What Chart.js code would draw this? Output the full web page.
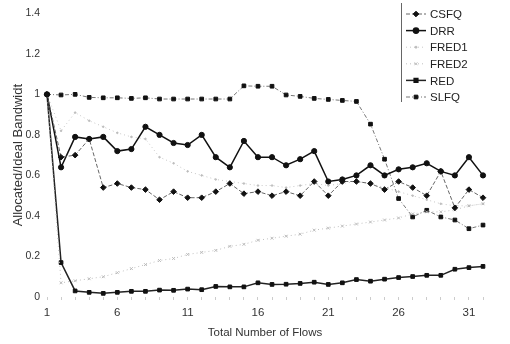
<!DOCTYPE html>
<html>
<head>
<meta charset="utf-8">
<script src="https://cdn.jsdelivr.net/npm/chart.js@4/dist/chart.umd.min.js"></script>
<style>
  html, body { margin: 0; padding: 0; background: #fff; }
  #wrap { width: 510px; height: 344px; }
</style>
</head>
<body>
<div id="wrap"><canvas id="bwChart" width="510" height="344"></canvas></div>
<script>
// flows on the x axis
const flows = [1, 2, 3, 4, 5, 6, 7, 8, 9, 10, 11, 12, 13, 14, 15, 16,
  17, 18, 19, 20, 21, 22, 23, 24, 25, 26, 27, 28, 29, 30, 31, 32]
const xTickLabels = [1, 6, 11, 16, 21, 26, 31]

const csfq = [1.0, 0.69, 0.70, 0.78, 0.54, 0.56, 0.54, 0.53, 0.48, 0.52, 0.49, 0.49,
  0.52, 0.56, 0.51, 0.52, 0.50, 0.52, 0.50, 0.57, 0.50, 0.57, 0.57, 0.56, 0.53, 0.57,
  0.54, 0.50, 0.62, 0.44, 0.53, 0.49]
const drr = [1.0, 0.64, 0.79, 0.78, 0.79, 0.72, 0.73, 0.84, 0.80, 0.76, 0.75, 0.80,
  0.69, 0.64, 0.77, 0.69, 0.69, 0.65, 0.68, 0.72, 0.57, 0.58, 0.60, 0.65, 0.60, 0.63,
  0.64, 0.66, 0.62, 0.60, 0.69, 0.60]
const fred1 = [1.0, 0.82, 0.91, 0.87, 0.84, 0.81, 0.79, 0.78, 0.69, 0.66, 0.62, 0.60,
  0.58, 0.57, 0.56, 0.55, 0.55, 0.54, 0.55, 0.56, 0.55, 0.56, 0.57, 0.56, 0.54, 0.52,
  0.50, 0.48, 0.46, 0.45, 0.45, 0.46]
const fred2 = [1.0, 0.07, 0.08, 0.09, 0.10, 0.12, 0.14, 0.16, 0.18, 0.19, 0.21, 0.22,
  0.23, 0.25, 0.26, 0.28, 0.29, 0.30, 0.31, 0.33, 0.34, 0.35, 0.36, 0.37, 0.38, 0.39,
  0.41, 0.42, 0.42, 0.43, 0.45, 0.46]
const red = [1.0, 0.17, 0.03, 0.023, 0.018, 0.023, 0.028, 0.028, 0.034, 0.033, 0.039, 0.036,
  0.052, 0.05, 0.05, 0.07, 0.062, 0.063, 0.067, 0.073, 0.062, 0.07, 0.086, 0.078, 0.088, 0.096,
  0.101, 0.107, 0.107, 0.137, 0.145, 0.151]
const slfq = [1.0, 0.997, 1.0, 0.985, 0.983, 0.983, 0.98, 0.983, 0.977, 0.977, 0.977, 0.977,
  0.977, 0.977, 1.042, 1.04, 1.04, 0.997, 0.99, 0.98, 0.975, 0.97, 0.965, 0.853, 0.68, 0.486,
  0.395, 0.428, 0.395, 0.38, 0.337, 0.355]

const seriesNames = ['CSFQ', 'DRR', 'FRED1', 'FRED2', 'RED', 'SLFQ']

const makeSet = (label, data, color, width, dash, point, radius, mark) => ({
  label: label,
  data: data,
  borderColor: color,
  backgroundColor: mark,
  borderWidth: width,
  borderDash: dash,
  pointStyle: point,
  pointRadius: radius,
  pointBorderColor: mark,
  pointBackgroundColor: mark,
  pointBorderWidth: 1,
  tension: 0
})

const datasets = [
  makeSet(seriesNames[0], csfq, '#666', 1, [4, 2], 'rectRot', 2.8, '#111'),
  makeSet(seriesNames[1], drr, '#111', 1.5, [], 'circle', 2.6, '#111'),
  makeSet(seriesNames[2], fred1, '#c8c8c8', 1, [1, 3], 'circle', 0.8, '#bbb'),
  makeSet(seriesNames[3], fred2, '#c0c0c0', 1, [1, 3], 'crossRot', 2, '#bbb'),
  makeSet(seriesNames[4], red, '#222', 1.5, [], 'rect', 2.6, '#111'),
  makeSet(seriesNames[5], slfq, '#777', 1, [4, 2, 1, 2], 'rect', 2.6, '#111')
]

// legend drawn in the top right corner, like the original figure
const boxLegend = {
  id: 'boxLegend',
  afterDraw(chart) {
    const ctx = chart.ctx
    const x0 = 401
    ctx.save()
    ctx.strokeStyle = '#666'
    ctx.lineWidth = 1
    ctx.setLineDash([])
    ctx.beginPath()
    ctx.moveTo(x0 + 0.5, 3)
    ctx.lineTo(x0 + 0.5, 102)
    ctx.stroke()
    ctx.font = '11.5px "Liberation Sans", Arial, sans-serif'
    ctx.textBaseline = 'middle'
    chart.data.datasets.forEach((ds, i) => {
      const y = 14 + i * 16.6
      ctx.strokeStyle = ds.borderColor
      ctx.lineWidth = ds.borderWidth
      ctx.setLineDash(ds.borderDash)
      ctx.beginPath()
      ctx.moveTo(x0 + 5, y)
      ctx.lineTo(x0 + 25, y)
      ctx.stroke()
      ctx.setLineDash([])
      ctx.fillStyle = ds.pointBackgroundColor
      ctx.strokeStyle = ds.pointBorderColor
      Chart.helpers.drawPoint(ctx, {
        pointStyle: ds.pointStyle,
        radius: Math.max(ds.pointRadius, 1),
        borderWidth: 1
      }, x0 + 15, y)
      ctx.fillStyle = '#222'
      ctx.fillText(ds.label, x0 + 29, y + 1)
    })
    ctx.restore()
  }
}

new Chart(document.getElementById('bwChart'), {
  type: 'line',
  data: { labels: flows, datasets: datasets },
  plugins: [boxLegend],
  options: {
    responsive: false,
    animation: false,
    layout: { padding: { top: 10, right: 27, left: 11, bottom: 4 } },
    plugins: {
      legend: { display: false },
      tooltip: { enabled: false }
    },
    scales: {
      x: {
        offset: false,
        afterFit: (scale) => { scale.height = 43 },
        border: { display: false },
        grid: {
          drawOnChartArea: false,
          tickLength: 3,
          color: '#ccc'
        },
        ticks: {
          autoSkip: false,
          maxRotation: 0,
          color: '#333',
          font: { family: '"Liberation Sans", Arial', size: 11.5 },
          padding: 6,
          callback: function (value) {
            const lbl = flows[value]
            return xTickLabels.includes(lbl) ? String(lbl) : ''
          }
        },
        title: {
          display: true,
          text: 'Total Number of Flows',
          color: '#333',
          font: { family: '"Liberation Sans", Arial', size: 11.5 },
          padding: { top: 2, bottom: 0 }
        }
      },
      y: {
        min: 0,
        max: 1.4,
        afterFit: (scale) => { scale.width = 36 },
        border: { display: false },
        grid: { display: false, drawTicks: false },
        ticks: {
          stepSize: 0.2,
          color: '#333',
          font: { family: '"Liberation Sans", Arial', size: 10.5 },
          padding: 7,
          callback: (v) => String(Math.round(v * 10) / 10)
        },
        title: {
          display: true,
          text: 'Allocated/Ideal Bandwidt',
          color: '#333',
          font: { family: '"Liberation Sans", Arial', size: 13 },
          padding: { top: 0, bottom: 2 }
        }
      }
    }
  }
})
</script>
</body>
</html>
